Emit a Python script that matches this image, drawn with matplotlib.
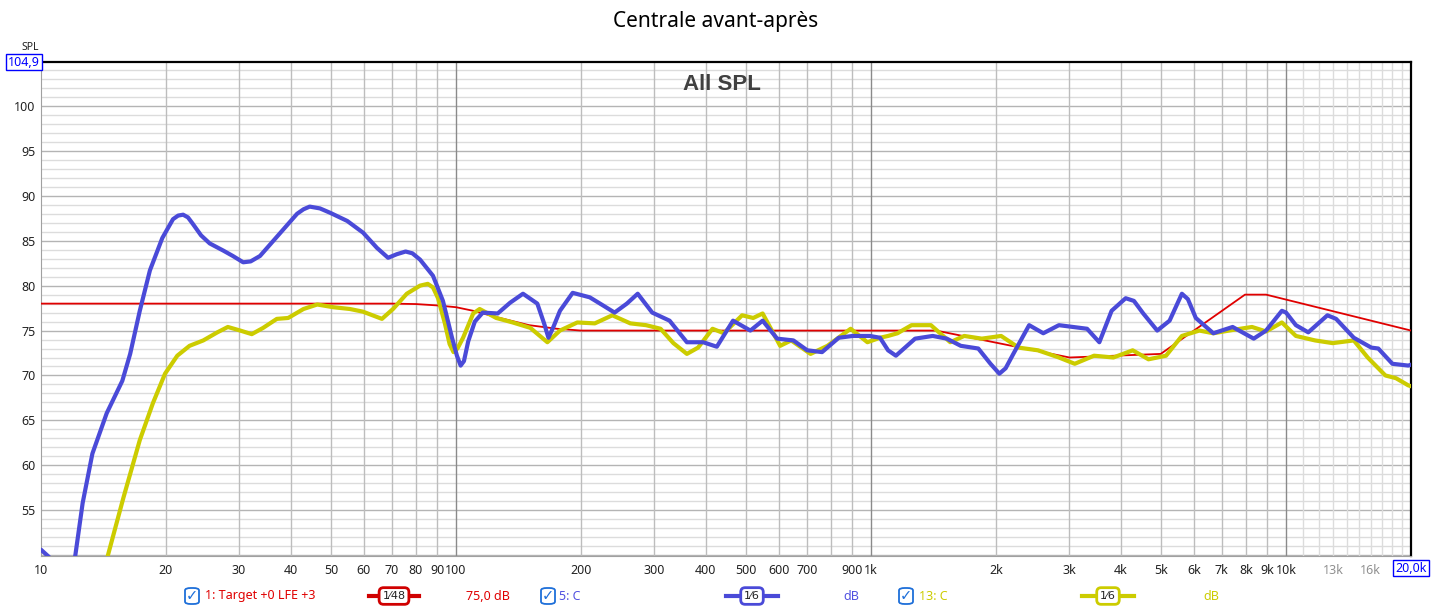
import numpy as np
import matplotlib
matplotlib.use("Agg")
import matplotlib.pyplot as plt
from matplotlib.patches import FancyBboxPatch
from matplotlib.lines import Line2D

plt.rcParams['font.family'] = ['Noto Sans', 'DejaVu Sans']

# measurement 5: C (before)
blue_f = [10.0, 10.45, 11.0, 11.7, 12.1, 12.6, 13.3, 14.4, 15.7, 16.4, 17.3, 18.3, 19.6, 20.8, 21.4,
          22.0, 22.6, 23.2, 24.3, 25.5, 27.5, 29.0, 30.7, 32.0, 33.7, 37.6, 41.4, 42.9, 44.4, 47.0,
          49.8, 54.7, 59.7, 64.5, 68.6, 72.0, 75.6, 78.5, 81.9, 88, 93, 97.8, 100.5, 102.6, 104.5,
          107, 111, 116, 126, 135, 145, 157, 163, 167, 172, 178, 191, 210, 226, 241, 258, 274,
          297, 327, 360, 394, 425, 465, 512, 548, 594, 650, 702, 762, 836, 904, 993, 1051, 1099,
          1148, 1277, 1408, 1522, 1645, 1813, 1940, 2038, 2110, 2202, 2404, 2600, 2836, 3315,
          3549, 3799, 4107, 4300, 4528, 4893, 5240, 5610, 5800, 6061, 6680, 7435, 8358, 8950, 9770,
          10000, 10560, 11310, 12580, 13200, 14560, 16050, 16680, 18040, 19700, 20000]
blue_db = [50.6, 49.8, 47.5, 46.5, 50.0, 55.8, 61.3, 65.8, 69.4, 72.4, 77.2, 81.7, 85.3, 87.4, 87.8,
           87.9, 87.6, 86.9, 85.6, 84.7, 83.9, 83.3, 82.6, 82.7, 83.3, 85.8, 88.0, 88.5, 88.8, 88.6,
           88.1, 87.2, 85.9, 84.2, 83.1, 83.5, 83.8, 83.6, 82.9, 81.1, 78.3, 74.2, 72.2, 71.1, 71.6,
           73.8, 76.0, 77.0, 76.9, 78.1, 79.1, 78.0, 75.8, 74.2, 75.5, 77.2, 79.2, 78.7, 77.8,
           77.0, 78.0, 79.1, 77.0, 76.1, 73.7, 73.7, 73.2, 76.1, 75.0, 76.1, 74.1, 73.9, 72.8, 72.6,
           74.2, 74.4, 74.4, 74.2, 72.8, 72.2, 74.1, 74.4, 74.1, 73.3, 73.0, 71.3, 70.2, 70.8, 72.4,
           75.6, 74.7, 75.6, 75.2, 73.7, 77.2, 78.6, 78.3, 76.9, 75.0, 76.1, 79.1, 78.5, 76.4, 74.7,
           75.4, 74.1, 75.0, 77.2, 77.0, 75.6, 74.8, 76.7, 76.3, 74.2, 73.1, 73.0, 71.3, 71.1, 71.2]

# measurement 13: C (after)
yellow_f = [13.8, 14.5, 15.8, 17.3, 18.6, 19.9, 21.3, 22.8, 24.6, 26.6, 28.2, 30.2, 32.2, 34.3, 37.0,
            39.4, 42.9, 46.3, 50.6, 55.5, 59.7, 66.3, 70.5, 76.1, 81.9, 85.5, 88.0, 90.5, 94, 96.5,
            98.6, 100.8, 104, 110, 114, 125, 137, 151, 166, 178, 196, 216, 238, 263, 287, 311, 334,
            360, 383, 415, 442, 489, 520, 548, 604, 642, 715, 785, 893, 980, 1051, 1099, 1158, 1252,
            1394, 1552, 1677, 1849, 2058, 2268, 2525, 2836, 3096, 3446, 3836, 4270, 4661, 5138, 5610,
            6181, 6680, 7511, 8278, 8950, 9770, 10560, 11750, 12950, 14560, 15730, 17350, 18390,
            19700, 20000]
yellow_db = [46.0, 50.0, 56.4, 62.8, 66.9, 70.2, 72.2, 73.3, 73.9, 74.8, 75.4, 75.0, 74.6, 75.3, 76.3,
             76.4, 77.4, 77.9, 77.6, 77.4, 77.1, 76.3, 77.4, 79.1, 80.0, 80.2, 79.8, 78.6, 75.8, 73.5,
             72.6, 73.0, 74.2, 76.9, 77.4, 76.4, 75.9, 75.3, 73.7, 75.0, 75.9, 75.8, 76.7, 75.8, 75.6,
             75.2, 73.6, 72.4, 73.1, 75.2, 74.7, 76.7, 76.4, 76.9, 73.3, 73.9, 72.4, 73.3, 75.2, 73.7,
             74.2, 74.4, 74.7, 75.6, 75.6, 73.7, 74.4, 74.1, 74.4, 73.1, 72.8, 72.0, 71.3, 72.2, 72.0,
             72.8, 71.8, 72.2, 74.4, 75.0, 74.7, 75.1, 75.4, 74.9, 75.9, 74.4, 73.9, 73.6, 73.9, 72.0,
             70.0, 69.7, 68.9, 68.8]

# 1: Target +0 LFE +3
target_f = [10, 70, 80, 90, 100, 110, 125, 150, 175, 200, 1434, 3008, 4989, 7962, 8950, 20000]
target_db = [78.0, 78.0, 77.95, 77.8, 77.6, 77.2, 76.5, 75.6, 75.2, 75.0, 75.0, 72.0, 72.4, 79.0,
             79.0, 75.0]

xtick_vals = [10, 20, 30, 40, 50, 60, 70, 80, 90, 100, 200, 300, 400, 500, 600, 700, 800, 900,
              1000, 2000, 3000, 4000, 5000, 6000, 7000, 8000, 9000, 10000, 13000, 16000]
xtick_labels = ['10', '20', '30', '40', '50', '60', '70', '80', '90', '100', '200', '300', '400',
                '500', '600', '700', '', '900', '1k', '2k', '3k', '4k', '5k', '6k', '7k', '8k',
                '9k', '10k', '13k', '16k']
ytick_vals = [55, 60, 65, 70, 75, 80, 85, 90, 95, 100]

W, H = 1431, 608
fig = plt.figure(figsize=(W / 100, H / 100), dpi=100)
ax = fig.add_axes([41 / W, 1 - 556 / H, 1370 / W, 494 / H])
ax.set_xscale('log')
ax.set_xlim(10, 20000)
ax.set_ylim(49.9, 104.9)

# grid
for d in range(50, 105):
    ax.axhline(d, color='#b4b4b4' if d % 5 == 0 else '#dcdcdc', lw=1, zorder=0)
for dec in [10, 100, 1000]:
    for m in range(2, 10):
        ax.axvline(dec * m, color='#bdbdbd', lw=1, zorder=0.5)
for m in range(11, 20):
    ax.axvline(m * 1000, color='#dcdcdc', lw=1, zorder=0.5)
for dec in [100, 1000, 10000]:
    ax.axvline(dec, color='#8a8a8a', lw=1, zorder=0.6)

ax.plot(target_f, target_db, color='#e00000', lw=1.3, zorder=3)
ax.plot(yellow_f, yellow_db, color='#cccc00', lw=3.0, zorder=4, solid_joinstyle='round',
        solid_capstyle='round')
ax.plot(blue_f, blue_db, color='#4a4ad8', lw=3.0, zorder=5, solid_joinstyle='round',
        solid_capstyle='round')

for s in ['left', 'bottom']:
    ax.spines[s].set_color('#a0a0a0')
ax.spines['top'].set_color('black')
ax.spines['top'].set_linewidth(1.6)
ax.spines['right'].set_color('black')
ax.spines['right'].set_linewidth(1.6)

ax.set_xticks(xtick_vals)
ax.set_xticklabels(xtick_labels)
ax.xaxis.set_minor_locator(matplotlib.ticker.NullLocator())
ax.set_yticks(ytick_vals)
ax.set_yticklabels([str(v) for v in ytick_vals])
ax.tick_params(length=0, labelsize=9, colors='#222222', pad=6)
ax.tick_params(axis='y', pad=4)
for lbl in ax.get_xticklabels():
    if lbl.get_text() in ('13k', '16k'):
        lbl.set_color('#909090')

ax.text(0.497, 0.975, 'All SPL', transform=ax.transAxes, ha='center', va='top',
        fontsize=16, fontweight='bold', color='#404040', family='Liberation Sans')

fig.text(0.5, 1 - 22 / H, 'Centrale avant-après', ha='center', va='center', fontsize=15,
         color='black')
fig.text(30 / W, 1 - 47 / H, 'SPL', ha='center', va='center', fontsize=7.5, color='#222222')

box = dict(boxstyle='square,pad=0.15', fc='white', ec='#0000ff', lw=1)
fig.text(24 / W, 1 - 62 / H, '104,9', ha='center', va='center', fontsize=9, color='#0000ff',
         bbox=box)
fig.text(1411 / W, 1 - 568 / H, '20,0k', ha='center', va='center', fontsize=9, color='#0000ff',
         bbox=box)

# legend row
ly = 1 - 596 / H


def checkbox(x):
    fig.patches.append(FancyBboxPatch((x / W - 7 / W, ly - 8 / H), 14 / W, 16 / H,
                                      boxstyle='round,pad=0,rounding_size=0.004',
                                      transform=fig.transFigure, fc='white', ec='#1e6fd9', lw=1.3))
    fig.text(x / W, ly, '✓', ha='center', va='center', fontsize=10.5, color='#1e6fd9',
             family='DejaVu Sans', fontweight='bold')


def sample(x0, x1, color, label):
    fig.lines.append(Line2D([x0 / W, x1 / W], [ly, ly], transform=fig.transFigure,
                            color=color, lw=3))
    fig.text((x0 + x1) / 2 / W, ly, label, ha='center', va='center', fontsize=8, color='#222222',
             family='DejaVu Sans',
             bbox=dict(boxstyle='round,pad=0.3,rounding_size=0.4', fc='white', ec=color, lw=2))


checkbox(192)
fig.text(205 / W, ly, '1: Target +0 LFE +3', ha='left', va='center', fontsize=9, color='#e00000')
sample(369, 419, '#d00000', '1⁄48')
fig.text(466 / W, ly, '75,0 dB', ha='left', va='center', fontsize=9, color='#e00000')

checkbox(548)
fig.text(559 / W, ly, '5: C', ha='left', va='center', fontsize=9, color='#5050e0')
sample(726, 778, '#4a4ad8', '1⁄6')
fig.text(843 / W, ly, 'dB', ha='left', va='center', fontsize=9, color='#5050e0')

checkbox(906)
fig.text(919 / W, ly, '13: C', ha='left', va='center', fontsize=9, color='#cccc00')
sample(1082, 1134, '#cccc00', '1⁄6')
fig.text(1203 / W, ly, 'dB', ha='left', va='center', fontsize=9, color='#cccc00')

fig.savefig('out.png', dpi=100)
